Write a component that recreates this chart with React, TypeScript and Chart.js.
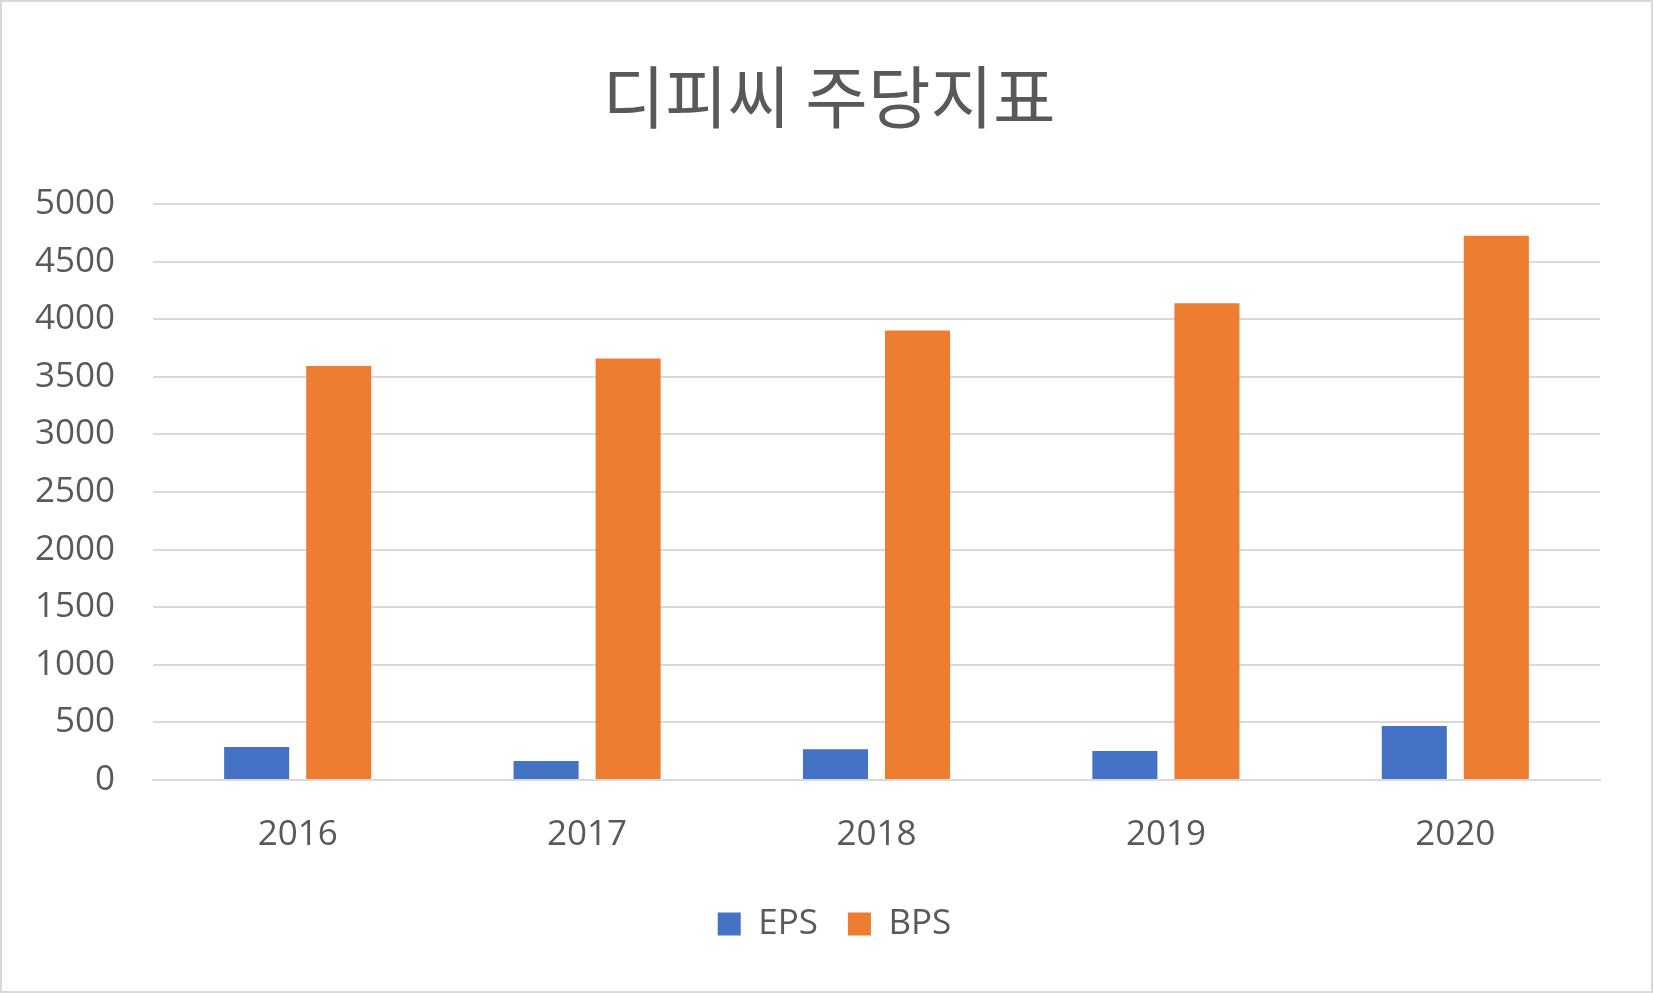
import React, { useEffect, useRef } from "react";
import { Chart, registerables } from "chart.js";

Chart.register(...registerables);

const title = "디피씨 주당지표";
const years = ["2016", "2017", "2018", "2019", "2020"];
const epsValues = [286, 165, 266, 251, 468];
const bpsValues = [3594, 3659, 3902, 4140, 4726];
const yTicks = [0, 500, 1000, 1500, 2000, 2500, 3000, 3500, 4000, 4500, 5000];

const W = 1653;
const H = 993;

const framePlugin = {
  id: "frameBorder",
  afterLayout(chart: any) {
    // nudge the title and legend boxes to match the reference's horizontal placement
    if (chart.titleBlock) chart.titleBlock.left += 28;
    if (chart.legend) chart.legend.left += 39;
  },
  beforeDraw(chart: any) {
    const ctx = chart.ctx;
    ctx.save();
    ctx.fillStyle = "#ffffff";
    ctx.fillRect(0, 0, chart.width, chart.height);
    ctx.restore();
  },
  afterDraw(chart: any) {
    const ctx = chart.ctx;
    ctx.save();
    ctx.strokeStyle = "#d9d9d9";
    ctx.lineWidth = 2;
    ctx.strokeRect(1, 1, chart.width - 2, chart.height - 2);
    ctx.restore();
  },
};

export default function App() {
  const ref = useRef<HTMLCanvasElement | null>(null);

  useEffect(() => {
    document.body.style.margin = "0";
    const canvas = ref.current;
    if (!canvas) return;
    const font = "'Open Sans', 'Noto Sans', sans-serif";
    const chart = new Chart(canvas, {
      type: "bar",
      data: {
        labels: years,
        datasets: [
          {
            label: "EPS",
            data: epsValues,
            backgroundColor: "#4472C4",
            borderWidth: 0,
            categoryPercentage: 0.567,
            barPercentage: 0.793,
          },
          {
            label: "BPS",
            data: bpsValues,
            backgroundColor: "#ED7D31",
            borderWidth: 0,
            categoryPercentage: 0.567,
            barPercentage: 0.793,
          },
        ],
      },
      options: {
        responsive: false,
        animation: false,
        maintainAspectRatio: false,
        layout: { padding: { left: 30, right: 53, top: 0, bottom: 41.5 } },
        plugins: {
          title: {
            display: true,
            text: title,
            color: "#595959",
            font: { family: "'Noto Sans CJK KR', sans-serif", size: 68, weight: "normal" as any, lineHeight: 1.2 },
            padding: { top: 56, bottom: 66.5 },
          },
          legend: {
            display: true,
            position: "bottom",
            labels: {
              color: "#595959",
              font: { family: font, size: 35 },
              boxWidth: 23,
              boxHeight: 23,
              padding: 30,
            },
          },
          tooltip: { enabled: false },
        },
        scales: {
          x: {
            grid: { display: false, drawTicks: false },
            border: { display: true, color: "#d9d9d9", width: 2 },
            ticks: { color: "#595959", font: { family: font, size: 35 }, padding: 34 },
            afterFit(scale: any) {
              scale.height = 96.5;
            },
          },
          y: {
            min: 0,
            max: 5000,
            afterBuildTicks(scale: any) {
              scale.ticks = yTicks.map((v) => ({ value: v }));
            },
            grid: { color: "#d9d9d9", lineWidth: 2, drawTicks: false },
            border: { display: false },
            ticks: {
              color: "#595959",
              font: { family: font, size: 35 },
              padding: 38,
              callback: (v: any) => String(v),
            },
            afterFit(scale: any) {
              scale.width = 123;
            },
          },
        },
      },
      plugins: [framePlugin],
    });
    return () => chart.destroy();
  }, []);

  return <canvas ref={ref} width={W} height={H} style={{ display: "block", width: W, height: H }} />;
}
